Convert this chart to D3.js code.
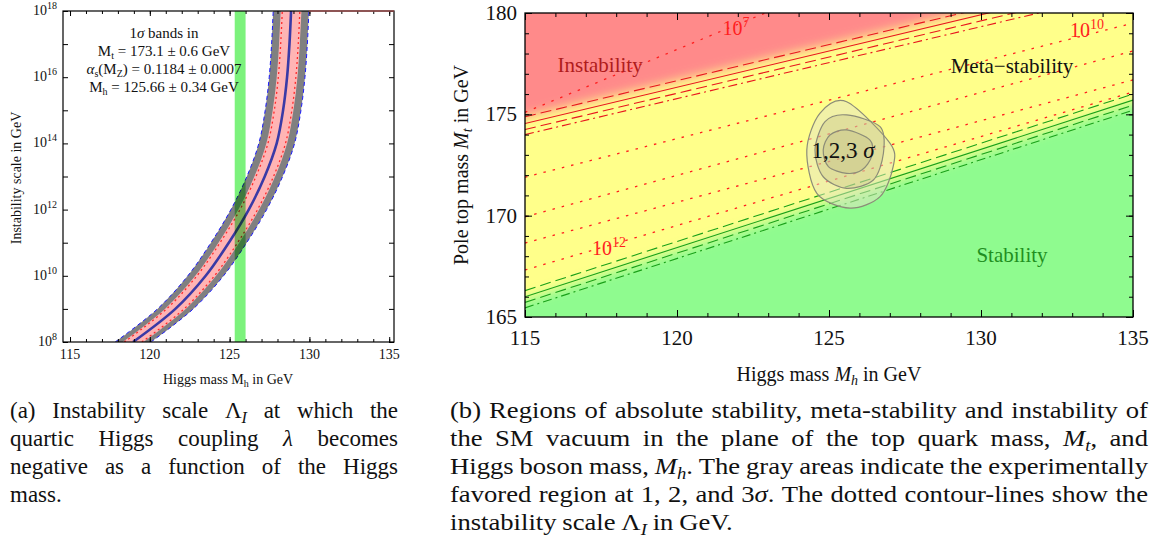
<!DOCTYPE html>
<html>
<head>
<meta charset="utf-8">
<script src="https://cdn.jsdelivr.net/npm/d3@7"></script>
<style>
  body { margin: 0; background: #fff; }
  svg text { font-family: "Liberation Serif", "Times New Roman", serif; fill: #111; }
</style>
</head>
<body>
<script>
// ---------- panel (a): instability scale against the Higgs mass ----------
let aLogScale   = [8, 9, 10, 11, 12, 13, 14, 15, 16, 17, 18];
let aMhCentral  = [118.95, 121.6, 123.5, 124.95, 126.2, 127.2, 127.95, 128.35, 128.6, 128.75, 128.85];
let aMhGrayLo   = [117.83, 120.48, 122.38, 123.83, 125.08, 126.08, 126.83, 127.23, 127.48, 127.63, 127.73];
let aMhGrayHi   = [120.07, 122.72, 124.62, 126.07, 127.32, 128.32, 129.07, 129.47, 129.72, 129.87, 129.97];
let aMhPinkLo   = [118.3, 120.95, 122.85, 124.3, 125.55, 126.55, 127.3, 127.7, 127.95, 128.1, 128.2];
let aMhPinkHi   = [119.6, 122.25, 124.15, 125.6, 126.85, 127.85, 128.6, 129.0, 129.25, 129.4, 129.5];
let aMhDotLo    = [118.4, 121.05, 122.95, 124.4, 125.65, 126.65, 127.4, 127.8, 128.05, 128.2, 128.3];
let aMhDotHi    = [119.5, 122.15, 124.05, 125.5, 126.75, 127.75, 128.5, 128.9, 129.15, 129.3, 129.4];
let aHiggsBand  = [125.32, 126.00];
let aXMajor = [115, 120, 125, 130, 135];
let aYMajor = [8, 10, 12, 14, 16, 18];

// ---------- panel (b): top mass against Higgs mass ----------
let bXMajor = [115, 120, 125, 130, 135];
let bYMajor = [165, 170, 175, 180];
// straight boundary lines, Mt at Mh = 115 and Mh = 135
let bLineEnds = [115, 135];
let instSolid   = [174.55, 181.7];
let instDashHi  = [174.88, 182.0];
let instDashLo  = [174.25, 181.4];
let instDotDash = [174.0, 181.1];
let stabSolid   = [166.0, 175.7];
let stabDashHi  = [166.3, 176.0];
let stabDashLo  = [165.72, 175.45];
let stabDotDash = [165.45, 175.2];
// dotted contours of the instability scale: Mt at Mh = 115 and at Mh = 135
let contourMtLeft  = [175.1, 171.9, 169.94, 168.65, 167.32];
let contourMtRight = [187.5, 179.5, 178.13, 176.7, 176.1];
// contour labels: exponent, Mh, Mt
let contourLabels = [[7, 121.5, 178.9], [10, 132.93, 178.8], [12, 117.2, 168.06]];
// 1,2,3 sigma regions
let sig3Mh = [125.58, 127.01, 127.11, 126.68, 125.69, 124.60, 124.27, 124.70];
let sig3Mt = [175.62, 173.57, 172.42, 170.94, 170.37, 171.10, 173.24, 175.05];
let sig2Mh = [125.58, 126.68, 126.79, 126.46, 125.58, 124.81, 124.54, 124.87];
let sig2Mt = [174.97, 174.39, 173.08, 171.76, 171.35, 171.92, 173.24, 174.64];
let sig1Mh = [125.58, 126.35, 126.40, 126.08, 125.58, 124.98, 124.81, 125.03];
let sig1Mt = [174.23, 173.73, 172.91, 172.25, 172.09, 172.42, 173.24, 173.98];
let sigFill = ["rgba(228,228,195,0.5)", "rgba(175,172,125,0.25)", "rgba(175,172,125,0.25)"];

let svg = d3.select("body").append("svg")
    .attr("width", 1164)
    .attr("height", 549);

let defs = svg.append("defs");
defs.append("clipPath").attr("id", "clipA")
  .append("rect").attr("x", 63).attr("y", 11).attr("width", 331).attr("height", 331);
defs.append("clipPath").attr("id", "clipB")
  .append("rect").attr("x", 525).attr("y", 13).attr("width", 608).attr("height", 304);
defs.append("filter").attr("id", "soft")
    .attr("filterUnits", "userSpaceOnUse")
    .attr("x", 300).attr("y", -300).attr("width", 1100).attr("height", 1000)
  .append("feGaussianBlur").attr("stdDeviation", 5.5);

// draws inward ticks on all four sides plus the box
function drawFrame(g, x, y, o) {
  let [x0, x1] = x.range(), [y0, y1] = y.range();
  let sides = (vx, vy) => [
    [d3.axisBottom, x, vx, `translate(0,${y0})`],
    [d3.axisTop, x, vx, `translate(0,${y1})`],
    [d3.axisLeft, y, vy, `translate(${x0},0)`],
    [d3.axisRight, y, vy, `translate(${x1},0)`]
  ];
  sides(o.xMinor, o.yMinor).forEach(s => {
    g.append("g").attr("transform", s[3])
      .call(s[0](s[1]).tickValues(s[2]).tickSize(-o.minor).tickSizeOuter(0).tickFormat(""));
  });
  sides(o.xMajor, o.yMajor).forEach(s => {
    g.append("g").attr("transform", s[3])
      .call(s[0](s[1]).tickValues(s[2]).tickSize(-o.major).tickSizeOuter(0).tickFormat(""));
  });
  g.selectAll(".domain").remove();
  g.selectAll(".tick line").attr("stroke", "#000").attr("stroke-width", o.tickWidth);
  g.append("rect")
    .attr("x", x0).attr("y", y1).attr("width", x1 - x0).attr("height", y0 - y1)
    .attr("fill", "none").attr("stroke", "#000").attr("stroke-width", o.frameWidth);
}

// ============ panel (a) ============
let xA = d3.scaleLinear().domain([114.56, 135.3]).range([63, 394]);
let yA = d3.scaleLinear().domain([8, 18]).range([342, 11]);

let aData = aLogScale.map((l, i) => ({
  l: l, c: aMhCentral[i],
  gl: aMhGrayLo[i], gh: aMhGrayHi[i],
  pl: aMhPinkLo[i], ph: aMhPinkHi[i],
  dl: aMhDotLo[i], dh: aMhDotHi[i]
}));

let gA = svg.append("g");
let plotA = gA.append("g").attr("clip-path", "url(#clipA)");

let band = (lo, hi) => d3.area()
  .curve(d3.curveCatmullRom)
  .y(d => yA(d.l))
  .x0(d => xA(d[lo]))
  .x1(d => xA(d[hi]));
let curveA = key => d3.line()
  .curve(d3.curveCatmullRom)
  .x(d => xA(d[key]))
  .y(d => yA(d.l));

plotA.append("path").datum(aData).attr("d", band("gl", "gh")).attr("fill", "#808080");
plotA.append("path").datum(aData).attr("d", band("pl", "ph")).attr("fill", "#ffb4b4");
["dl", "dh"].forEach(k => {
  plotA.append("path").datum(aData).attr("d", curveA(k))
    .attr("fill", "none").attr("stroke", "#ff2a2a").attr("stroke-width", 1.3)
    .attr("stroke-dasharray", "2,3");
});
["gl", "gh"].forEach(k => {
  plotA.append("path").datum(aData).attr("d", curveA(k))
    .attr("fill", "none").attr("stroke", "#1a1aff").attr("stroke-width", 1)
    .attr("stroke-dasharray", "4,3");
});
plotA.append("path").datum(aData).attr("d", curveA("c"))
  .attr("fill", "none").attr("stroke", "#3a3aa6").attr("stroke-width", 2.6);

// measured Higgs mass band
plotA.append("rect")
  .attr("x", xA(aHiggsBand[0]))
  .attr("width", xA(aHiggsBand[1]) - xA(aHiggsBand[0]))
  .attr("y", yA(18)).attr("height", yA(8) - yA(18))
  .attr("fill", "#7cf27c")
  .style("mix-blend-mode", "multiply");

drawFrame(gA, xA, yA, {
  xMajor: aXMajor, xMinor: d3.range(115, 136),
  yMajor: d3.range(8, 19), yMinor: [],
  major: 5, minor: 3, tickWidth: 1, frameWidth: 1.2
});

// the region right of the band sits above the plotted range: reddish top edge
gA.append("line")
  .attr("x1", xA(aMhGrayHi[aMhGrayHi.length - 1])).attr("x2", xA.range()[1])
  .attr("y1", yA(18)).attr("y2", yA(18))
  .attr("stroke", "#9c5050").attr("stroke-width", 1.6);

// tick labels
gA.selectAll(".xlab").data(aXMajor).enter().append("text")
  .attr("x", d => xA(d)).attr("y", 359)
  .attr("text-anchor", "middle").attr("font-size", 14)
  .text(d => d);
aYMajor.forEach(e => {
  let t = gA.append("text").attr("x", 57).attr("y", yA(e) + 4)
    .attr("text-anchor", "end").attr("font-size", 14);
  t.append("tspan").text("10");
  t.append("tspan").attr("dy", -6).attr("font-size", 10).text(e);
});

// axis titles
let tA = gA.append("text").attr("x", 228).attr("y", 384)
  .attr("text-anchor", "middle").attr("font-size", 14);
tA.append("tspan").text("Higgs mass M");
tA.append("tspan").attr("dy", 3).attr("font-size", 10).text("h");
tA.append("tspan").attr("dy", -3).text(" in GeV");

gA.append("text")
  .attr("transform", "translate(21,178) rotate(-90)")
  .attr("text-anchor", "middle").attr("font-size", 14)
  .text("Instability scale in GeV");

// legend text
let legA = gA.append("g").attr("font-size", 15).attr("text-anchor", "middle");
let l1 = legA.append("text").attr("x", 164).attr("y", 38);
l1.append("tspan").text("1");
l1.append("tspan").attr("font-style", "italic").text("σ");
l1.append("tspan").text(" bands in");
let l2 = legA.append("text").attr("x", 164).attr("y", 56);
l2.append("tspan").text("M");
l2.append("tspan").attr("dy", 3).attr("font-size", 10).text("t");
l2.append("tspan").attr("dy", -3).text(" = 173.1 ± 0.6 GeV");
let l3 = legA.append("text").attr("x", 164).attr("y", 74);
l3.append("tspan").attr("font-style", "italic").text("α");
l3.append("tspan").attr("dy", 3).attr("font-size", 10).text("s");
l3.append("tspan").attr("dy", -3).text("(M");
l3.append("tspan").attr("dy", 3).attr("font-size", 10).text("Z");
l3.append("tspan").attr("dy", -3).text(") = 0.1184 ± 0.0007");
let l4 = legA.append("text").attr("x", 164).attr("y", 92);
l4.append("tspan").text("M");
l4.append("tspan").attr("dy", 3).attr("font-size", 10).text("h");
l4.append("tspan").attr("dy", -3).text(" = 125.66 ± 0.34 GeV");

// ============ panel (b) ============
let xB = d3.scaleLinear().domain([115, 135]).range([525, 1133]);
let yB = d3.scaleLinear().domain([165, 180]).range([317, 13]);

let gB = svg.append("g");
let plotB = gB.append("g").attr("clip-path", "url(#clipB)");

// straight line through its two end values, extended by the scale
let lineFn = ends => d3.scaleLinear().domain(bLineEnds).range(ends);
let polyPath = d => d3.line().x(p => xB(p[0])).y(p => yB(p[1]))(d) + "Z";

plotB.append("rect")
  .attr("x", 525).attr("y", 13).attr("width", 608).attr("height", 304)
  .attr("fill", "#ffff8a");

let soft = plotB.append("g").attr("filter", "url(#soft)");
let fInst = lineFn(instDashHi);
soft.append("path")
  .datum([[105, fInst(105)], [145, fInst(145)], [145, 200], [105, 200]])
  .attr("d", polyPath)
  .attr("fill", "#ff8a8a");
let fStab = lineFn(stabSolid);
soft.append("path")
  .datum([[105, fStab(105) - 0.15], [145, fStab(145) - 0.15], [145, 150], [105, 150]])
  .attr("d", polyPath)
  .attr("fill", "#8ffb8f");

// dotted contour lines of the instability scale
contourMtLeft.forEach((m, i) => {
  let f = lineFn([m, contourMtRight[i]]);
  plotB.append("line")
    .attr("x1", xB(115)).attr("y1", yB(f(115)))
    .attr("x2", xB(135)).attr("y2", yB(f(135)))
    .attr("stroke", "#ff1e1e").attr("stroke-width", 1.3)
    .attr("stroke-dasharray", "2.5,7");
});

// boundary lines
let bLines = [
  [instSolid, "#e8161e", null],
  [instDashHi, "#e8161e", "11,5"],
  [instDashLo, "#e8161e", "11,5"],
  [instDotDash, "#e8161e", "9,4,2,4"],
  [stabSolid, "#19a019", null],
  [stabDashHi, "#19a019", "11,5"],
  [stabDashLo, "#19a019", "11,5"],
  [stabDotDash, "#19a019", "9,4,2,4"]
];
bLines.forEach(b => {
  let f = lineFn(b[0]);
  plotB.append("line")
    .attr("x1", xB(115)).attr("y1", yB(f(115)))
    .attr("x2", xB(135)).attr("y2", yB(f(135)))
    .attr("stroke", b[1]).attr("stroke-width", 1.1)
    .attr("stroke-dasharray", b[2]);
});

// 1,2,3 sigma regions
let sigLine = d3.line().curve(d3.curveCardinalClosed.tension(0.1))
  .x(p => xB(p[0])).y(p => yB(p[1]));
[[sig3Mh, sig3Mt], [sig2Mh, sig2Mt], [sig1Mh, sig1Mt]].forEach((s, i) => {
  plotB.append("path")
    .datum(s[0].map((m, j) => [m, s[1][j]]))
    .attr("d", sigLine)
    .attr("fill", sigFill[i])
    .attr("stroke", "#8c8c78").attr("stroke-width", 1.2);
});

// region and contour labels
let sLab = gB.append("text").attr("x", xB(125.46)).attr("y", yB(172.85))
  .attr("text-anchor", "middle").attr("font-size", 23);
sLab.append("tspan").text("1,2,3 ");
sLab.append("tspan").attr("font-style", "italic").text("σ");

gB.append("text").attr("x", xB(117.47)).attr("y", yB(177.09))
  .attr("text-anchor", "middle").attr("font-size", 21)
  .style("fill", "#b01c1c").text("Instability");
gB.append("text").attr("x", xB(131.02)).attr("y", yB(177.04))
  .attr("text-anchor", "middle").attr("font-size", 21)
  .text("Meta\u2212stability");
gB.append("text").attr("x", xB(131.02)).attr("y", yB(167.72))
  .attr("text-anchor", "middle").attr("font-size", 21)
  .style("fill", "#1f8f1f").text("Stability");

contourLabels.forEach(l => {
  let t = gB.append("text").attr("x", xB(l[1])).attr("y", yB(l[2]))
    .attr("font-size", 20).style("fill", "#ff1e1e");
  t.append("tspan").style("fill", "#ff1e1e").text("10");
  t.append("tspan").style("fill", "#ff1e1e").attr("dy", -8).attr("font-size", 14).text(l[0]);
});

drawFrame(gB, xB, yB, {
  xMajor: bXMajor, xMinor: d3.range(115, 136),
  yMajor: bYMajor, yMinor: d3.range(165, 181),
  major: 7, minor: 4, tickWidth: 1, frameWidth: 1.3
});

gB.selectAll(".bxlab").data(bXMajor).enter().append("text")
  .attr("x", d => xB(d)).attr("y", yB(165) + 28)
  .attr("text-anchor", "middle").attr("font-size", 21)
  .text(d => d);
gB.selectAll(".bylab").data(bYMajor).enter().append("text")
  .attr("x", 517).attr("y", d => yB(d) + 7)
  .attr("text-anchor", "end").attr("font-size", 21)
  .text(d => d);

let tB = gB.append("text").attr("x", 829).attr("y", 381)
  .attr("text-anchor", "middle").attr("font-size", 20);
tB.append("tspan").text("Higgs mass ");
tB.append("tspan").attr("font-style", "italic").text("M");
tB.append("tspan").attr("font-style", "italic").attr("dy", 4).attr("font-size", 14).text("h");
tB.append("tspan").attr("dy", -4).text(" in GeV");

let tB2 = gB.append("text")
  .attr("transform", "translate(468,165) rotate(-90)")
  .attr("text-anchor", "middle").attr("font-size", 20);
tB2.append("tspan").text("Pole top mass ");
tB2.append("tspan").attr("font-style", "italic").text("M");
tB2.append("tspan").attr("font-style", "italic").attr("dy", 4).attr("font-size", 14).text("t");
tB2.append("tspan").attr("dy", -4).text(" in GeV");

// ============ captions ============
let capA = [
  ["(a)", "Instability", "scale", [["Λ", ""], ["I", "sub"]], "at", "which", "the"],
  ["quartic", "Higgs", "coupling", [["λ", "it"]], "becomes"],
  ["negative", "as", "a", "function", "of", "the", "Higgs"],
  ["mass."]
];
let capB = [
  ["(b)", "Regions", "of", "absolute", "stability,", "meta-stability", "and", "instability", "of"],
  ["the", "SM", "vacuum", "in", "the", "plane", "of", "the", "top", "quark", "mass,", [["M", "it"], ["t", "sub"], [",", ""]], "and"],
  ["Higgs", "boson", "mass,", [["M", "it"], ["h", "sub"], [".", ""]], "The", "gray", "areas", "indicate", "the", "experimentally"],
  ["favored", "region", "at", "1,", "2,", "and", [["3", ""], ["σ", "it"], [".", ""]], "The", "dotted", "contour-lines", "show", "the"],
  ["instability", "scale", [["Λ", ""], ["I", "sub"]], "in", "GeV."]
];

function makeWords(g, words, y) {
  return words.map(w => {
    let t = g.append("text").attr("y", y);
    let segs = typeof w === "string" ? [[w, ""]] : w;
    let shift = 0;
    segs.forEach(s => {
      let ts = t.append("tspan").text(s[0]);
      if (s[1] === "it") ts.attr("font-style", "italic");
      if (s[1] === "sub") {
        ts.attr("font-style", "italic").attr("font-size", "0.7em").attr("dy", 5);
        shift = 5;
      } else if (shift) {
        ts.attr("dy", -shift);
        shift = 0;
      }
    });
    return t;
  });
}

function layoutLine(items, x0, width, justify, space) {
  let widths = items.map(t => t.node().getComputedTextLength());
  let gap = justify && items.length > 1
    ? (width - d3.sum(widths)) / (items.length - 1) : space;
  let x = x0;
  items.forEach((t, i) => { t.attr("x", x); x += widths[i] + gap; });
}

let capLineY = [418, 446, 474, 502, 530];

let gCapA = svg.append("g").attr("font-size", 23);
capA.forEach((words, i) => {
  let items = makeWords(gCapA, words, capLineY[i]);
  layoutLine(items, 10, 388, i < capA.length - 1, 6);
});

let gCapB = svg.append("g").attr("font-size", 23);
let capBItems = capB.map((words, i) => makeWords(gCapB, words, capLineY[i]));
let natural = capBItems.slice(0, 4).map(items =>
  d3.sum(items, t => t.node().getComputedTextLength()) + 5 * (items.length - 1));
let sx = 698 / d3.max(natural);
gCapB.attr("transform", `translate(450,0) scale(${sx},1)`);
capBItems.forEach((items, i) => {
  layoutLine(items, 0, 698 / sx, i < capB.length - 1, 5);
});
</script>
</body>
</html>
